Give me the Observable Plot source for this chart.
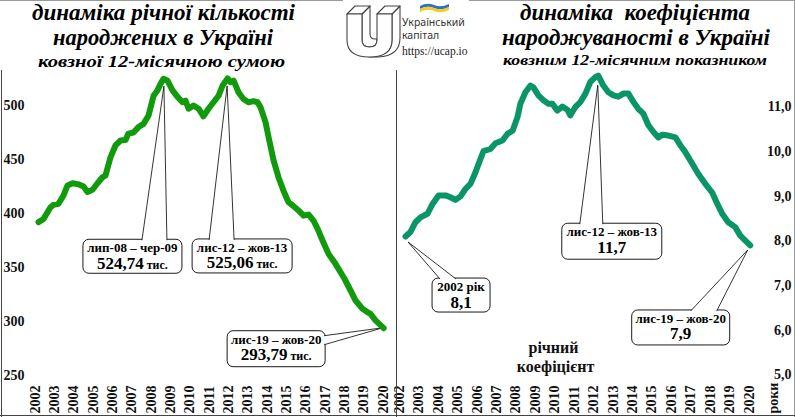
<!DOCTYPE html>
<html><head><meta charset="utf-8">
<script src="https://cdn.jsdelivr.net/npm/d3@7"></script>
<script src="https://cdn.jsdelivr.net/npm/@observablehq/plot@0.6"></script>
<style>
html,body{margin:0;padding:0;background:#fff;}
#root{position:relative;width:795px;height:417px;overflow:hidden;background:#fff;}
#root svg{position:absolute;top:0;}
</style></head><body><div id="root"></div>
<script>
// ---------- data ----------
const years = d3.range(2002, 2021);
const birthsTicks = [250, 300, 350, 400, 450, 500];
const rateTicks = [5, 6, 7, 8, 9, 10, 11];

// births, rolling 12-month sum, thousands
const birthsT = [2001.95,2002.21,2002.57,2002.72,2002.98,2003.24,2003.45,2003.71,2004.02,2004.28,
  2004.48,2004.74,2005.00,2005.26,2005.41,2005.67,2005.93,2006.19,2006.45,2006.60,
  2006.86,2007.12,2007.38,2007.64,2007.90,2008.10,2008.26,2008.41,2008.62,2008.88,
  2009.14,2009.40,2009.55,2009.71,2009.97,2010.23,2010.48,2010.74,2011.00,2011.26,
  2011.47,2011.73,2011.88,2012.04,2012.30,2012.55,2012.81,2013.07,2013.28,2013.43,
  2013.69,2013.85,2014.11,2014.36,2014.62,2014.88,2015.14,2015.40,2015.66,2015.92,
  2016.17,2016.38,2016.64,2016.95,2017.31,2017.73,2018.09,2018.35,2018.71,2018.97,
  2019.12,2019.38,2019.80];
const birthsV = [392,395,405.8,408,409,416.7,426,428,427,425,
  420,422,428,433.6,435,452,463,467.6,468,474,
  475,480,483,490.7,509,514,520,524.74,523,514,
  508,503,504.6,497,500,497,490,497,503,509,
  518.5,525.06,521.6,523,512,506,503,504,503,498.5,
  484.6,470.6,449,433.6,421,410.5,406.8,402.8,398,399,
  393.5,386,375,362.6,353.4,341,328.7,319.4,311.7,308.6,
  307,301,293.79];

// birth rate, rolling 12-month, per 1000
const rateT = [2002.09,2002.34,2002.60,2002.86,2003.22,2003.48,2003.79,2004.15,2004.40,2004.66,
  2004.92,2005.18,2005.43,2005.69,2005.95,2006.10,2006.46,2006.72,2007.08,2007.34,
  2007.60,2007.85,2008.00,2008.26,2008.52,2008.67,2008.93,2009.19,2009.45,2009.65,
  2009.90,2010.16,2010.42,2010.57,2010.83,2011.09,2011.35,2011.60,2011.86,2012.01,
  2012.27,2012.53,2012.79,2013.04,2013.30,2013.56,2013.82,2014.07,2014.33,2014.59,
  2014.85,2015.10,2015.31,2015.62,2015.98,2016.24,2016.49,2016.85,2017.16,2017.52,
  2017.88,2018.14,2018.39,2018.70,2019.06,2019.32,2019.58,2019.83];
const rateV = [8.1,8.2,8.42,8.53,8.61,8.83,9.02,9.02,8.98,8.92,
  9.0,9.17,9.28,9.54,9.84,10.01,10.06,10.19,10.25,10.4,
  10.47,10.77,11.07,11.33,11.48,11.44,11.26,11.15,11.07,11.07,
  10.92,11.01,10.94,10.81,11.0,11.11,11.3,11.56,11.67,11.7,
  11.48,11.33,11.26,11.23,11.3,11.3,11.11,10.96,10.85,10.59,
  10.44,10.32,10.38,10.36,10.32,10.14,9.99,9.73,9.5,9.28,
  9.08,8.83,8.61,8.42,8.31,8.12,8.01,7.9];

const birthsNotes = [
  {t: 2008.41, v: 524.74, period: "лип-08 – чер-09", value: "524,74", unit: " тис."},
  {t: 2011.73, v: 525.06, period: "лис-12 – жов-13", value: "525,06", unit: " тис."},
  {t: 2019.80, v: 293.79, period: "лис-19 – жов-20", value: "293,79", unit: " тис."}
];
const rateNotes = [
  {t: 2002.09, v: 8.1, period: "2002 рік", value: "8,1", unit: ""},
  {t: 2012.01, v: 11.7, period: "лис-12 – жов-13", value: "11,7", unit: ""},
  {t: 2019.83, v: 7.9, period: "лис-19 – жов-20", value: "7,9", unit: ""}
];
const rateLabel = ["річний", "коефіцієнт"];

const births = birthsT.map((t, i) => ({t, v: birthsV[i]}));
const rate = rateT.map((t, i) => ({t, v: rateV[i]}));

// ---------- styles ----------
const SERIF = "'Liberation Serif', 'Times New Roman', serif";
const GREEN1 = "#119a0c";
const GREEN2 = "#0a9568";

// callout geometry (pixel offsets from the anchored data point)
const birthsLayout = [
  {dx: -80, dy: 161, w: 99, h: 34, tip: [1, 8], p1: [59, 1], p2: [84, 1]},
  {dx: -35, dy: 161, w: 100, h: 34, tip: [0, 8], p1: [17, 1], p2: [42, 1]},
  {dx: -156, dy: 3, w: 98, h: 36, tip: [0, 0], p1: [97, 5], p2: [97, 14]}
];
const rateLayout = [
  {dx: 27, dy: 42, w: 58, h: 34, tip: [3, 6], p1: [8, 1], p2: [24, 1]},
  {dx: -36, dy: 148, w: 100, h: 36, tip: [0, 10], p1: [18, 1], p2: [41, 1]},
  {dx: -118, dy: 65, w: 98, h: 35, tip: [-2, 5], p1: [59, 1], p2: [85, 1]}
];

const root = d3.select("#root");

function tickText(data, opts) {
  return Plot.text(data, Object.assign({fontFamily: SERIF, fontWeight: "bold", fontSize: 14, fill: "#111"}, opts));
}

// ---------- left chart ----------
const left = Plot.plot({
  width: 397, height: 417,
  marginLeft: 3, marginRight: 0, marginTop: 0, marginBottom: 4,
  style: {background: "transparent", overflow: "visible"},
  x: {type: "linear", domain: [2002, 2020], range: [39, 387], axis: null},
  y: {domain: [250, 500], range: [375, 105], axis: null},
  marks: [
    Plot.line(births, {x: "t", y: "v", stroke: GREEN1, strokeWidth: 6, strokeLinecap: "round", strokeLinejoin: "round"}),
    tickText(birthsTicks, {y: d => d, frameAnchor: "left", text: d => String(d), textAnchor: "start"}),
    tickText(years, {x: d => d, frameAnchor: "bottom", text: d => String(d), rotate: -90, textAnchor: "start"})
  ]
});
left.style.left = "0px";
root.node().appendChild(left);

// ---------- right chart ----------
const fmt = d => d.toFixed(1).replace(".", ",");
const right = Plot.plot({
  width: 398, height: 417,
  marginLeft: 0, marginRight: 4, marginTop: 0, marginBottom: 4,
  style: {background: "transparent", overflow: "visible"},
  x: {type: "linear", domain: [2002, 2020], range: [6.3, 356], axis: null},
  y: {domain: [5, 11], range: [374.5, 106.5], axis: null},
  marks: [
    Plot.line(rate, {x: "t", y: "v", stroke: GREEN2, strokeWidth: 6, strokeLinecap: "round", strokeLinejoin: "round"}),
    tickText(rateTicks, {y: d => d, frameAnchor: "right", text: fmt, textAnchor: "end"}),
    tickText(years, {x: d => d, frameAnchor: "bottom", text: d => String(d), rotate: -90, textAnchor: "start"}),
    tickText(["роки"], {frameAnchor: "bottom-right", dx: -14, text: d => d, rotate: -90, textAnchor: "start"}),
    Plot.text(rateLabel, {frameAnchor: "top-left", text: d => d, dx: 156, dy: 341,
      fontFamily: SERIF, fontWeight: "bold", fontSize: 16, fill: "#111", textAnchor: "middle",
      filter: (d, i) => i === 0}),
    Plot.text(rateLabel, {frameAnchor: "top-left", text: d => d, dx: 158, dy: 360,
      fontFamily: SERIF, fontWeight: "bold", fontSize: 16, fill: "#111", textAnchor: "middle",
      filter: (d, i) => i === 1})
  ]
});
right.style.left = "397px";
root.node().appendChild(right);

// ---------- callouts ----------
function addNotes(svg, notes, layout) {
  const sx = v => svg.scale("x").apply(v);
  const sy = v => svg.scale("y").apply(v);
  const g = d3.select(svg).insert("g", "g");
  notes.forEach((n, i) => {
    const L = layout[i];
    const px = sx(n.t), py = sy(n.v);
    const bx = px + L.dx, by = py + L.dy;
    const tx = px + L.tip[0], ty = py + L.tip[1];
    const gg = g.append("g");
    gg.append("rect").attr("x", bx).attr("y", by).attr("width", L.w).attr("height", L.h)
      .attr("rx", 6).attr("fill", "#fff").attr("stroke", "#000").attr("stroke-width", 0.9);
    gg.append("path")
      .attr("d", `M${bx + L.p1[0]},${by + L.p1[1]}L${tx},${ty}L${bx + L.p2[0]},${by + L.p2[1]}`)
      .attr("fill", "#fff").attr("stroke", "#000").attr("stroke-width", 0.8);
    gg.append("text").attr("x", bx + L.w / 2).attr("y", by + 13)
      .attr("text-anchor", "middle").attr("font-family", SERIF).attr("font-weight", "bold")
      .attr("font-size", 13).attr("fill", "#000").text(n.period);
    const t2 = gg.append("text").attr("x", bx + L.w / 2).attr("y", by + 29.5)
      .attr("text-anchor", "middle").attr("font-family", SERIF).attr("font-weight", "bold").attr("fill", "#000");
    t2.append("tspan").attr("font-size", 17).text(n.value);
    if (n.unit) t2.append("tspan").attr("font-size", 12).text(n.unit);
  });
}
addNotes(left, birthsNotes, birthsLayout);
addNotes(right, rateNotes, rateLayout);

// ---------- overlay: frame, titles, logo ----------
const ov = root.append("svg").attr("width", 795).attr("height", 417).style("left", "0px");
ov.append("line").attr("x1", 0).attr("x2", 795).attr("y1", 0.5).attr("y2", 0.5).attr("stroke", "#9a9a9a");
ov.append("line").attr("x1", 794.5).attr("x2", 794.5).attr("y1", 0).attr("y2", 417).attr("stroke", "#9a9a9a");
ov.append("line").attr("x1", 0).attr("x2", 795).attr("y1", 415.5).attr("y2", 415.5).attr("stroke", "#444");
ov.append("line").attr("x1", 1.5).attr("x2", 1.5).attr("y1", 70).attr("y2", 417).attr("stroke", "#444");
ov.append("line").attr("x1", 396.5).attr("x2", 396.5).attr("y1", 70).attr("y2", 417).attr("stroke", "#444");

const titles = [
  {text: "динаміка річної кількості", x: 163.5, y: 20, len: 263, size: 23},
  {text: "народжених в Україні", x: 163, y: 45, len: 220, size: 23},
  {text: "ковзної 12-місячною сумою", x: 161.5, y: 67, len: 247, size: 16},
  {text: "динаміка  коефіцієнта", x: 635, y: 20, len: 230, size: 23},
  {text: "народжуваності в Україні", x: 636, y: 45, len: 268, size: 23},
  {text: "ковзним 12-місячним показником", x: 635, y: 65, len: 264, size: 14}
];
titles.forEach(d => {
  ov.append("text").attr("x", d.x).attr("y", d.y).attr("text-anchor", "middle")
    .attr("font-family", SERIF).attr("font-weight", "bold").attr("font-style", "italic")
    .attr("font-size", d.size).attr("textLength", d.len).attr("lengthAdjust", "spacingAndGlyphs")
    .style("white-space", "pre").attr("fill", "#000").text(d.text);
});

// logo
const lg = ov.append("g");
lg.append("rect").attr("x", 343).attr("y", 0).attr("width", 126).attr("height", 58).attr("fill", "#fff");
const ust = {fill: "#fff", stroke: "#444", "stroke-width": 1.1, "stroke-linejoin": "round"};
function up(d) { const p = lg.append("path").attr("d", d); Object.entries(ust).forEach(([k, v]) => p.attr(k, v)); }
up("M392,14 L400,6 L400,38 Q400,56 378,57 L369,57 Q392,56 392,40 Z");
up("M362,14 L370,6 L370,34 Q370,39 375,39 L377,39 L377,40 Q377,47 369.5,47 Q362,47 362,40 Z");
up("M347,14 L355,6 L370,6 L362,14 Z");
up("M377,14 L385,6 L400,6 L392,14 Z");
up("M347,14 L362,14 L362,40 Q362,47 369.5,47 Q377,47 377,40 L377,14 L392,14 L392,40 Q392,57 369.5,57 Q347,57 347,40 Z");
lg.append("path").attr("d", "M420,6 Q427,2 434,5 Q441,8 449,4 L449,7 Q441,11 434,8 Q427,5 420,9 Z").attr("fill", "#2e6fd0");
lg.append("path").attr("d", "M420,9 Q427,5 434,8 Q441,11 449,7 L449,10 Q441,14 434,11 Q427,8 420,12 Z").attr("fill", "#f3cf15");
lg.append("text").attr("x", 402).attr("y", 26).attr("font-family", "'Noto Sans', sans-serif").attr("font-size", 10.5).attr("fill", "#333").text("Український");
lg.append("text").attr("x", 402).attr("y", 39).attr("font-family", "'Noto Sans', sans-serif").attr("font-size", 10.5).attr("fill", "#333").text("капітал");
lg.append("text").attr("x", 402).attr("y", 55).attr("font-family", SERIF).attr("font-size", 11.5).attr("fill", "#222").text("https://ucap.io");
</script></body></html>
